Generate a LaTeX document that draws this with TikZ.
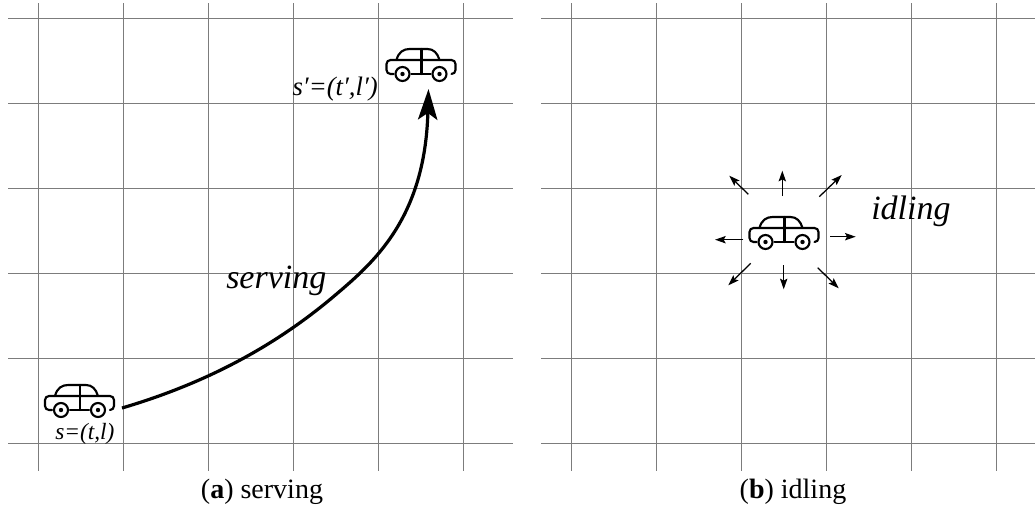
\documentclass[tikz,border=0pt]{standalone}
\usepackage{fontspec}
\setmainfont{Liberation Serif}
\usetikzlibrary{arrows.meta}
\definecolor{gridline}{HTML}{7C7C7C}
\begin{document}
\begin{tikzpicture}[
  x=.75pt,y=-.75pt,
  gridrule/.style={draw=gridline,line width=.65pt},
  carline/.style={draw=black,line width=1.6pt,line cap=round},
  route/.style={-{Stealth[length=23pt,width=14.5pt,inset=5pt]},line width=2.4pt},
  idlearr/.style={-{Stealth[length=8pt,width=5.5pt,inset=1.5pt]},line width=.95pt},
  tag/.style={font=\itshape\fontsize{17.5}{17.5}\selectfont,inner sep=0pt},
  word/.style={font=\itshape\fontsize{25.5}{25.5}\selectfont,anchor=base west,inner sep=0pt},
  caption/.style={font=\fontsize{21}{21}\selectfont,anchor=base,inner sep=0pt},
  pics/car/.style={code={
    \draw[carline,rounded corners=3pt] (-28,14) -- (-35,14) -- (-35,0) -- (34,0) -- (34,14) -- (30,14);
    \draw[carline] (-25,0) .. controls (-23,-8) and (-18,-11) .. (-12,-11) -- (6,-11)
       .. controls (12,-11) and (16,-7) .. (18,0);
    \draw[carline] (0,-11) -- (0,14) (-10,14) -- (9,14);
    \foreach \wx in {-19,18}{
      \draw[carline] (\wx,14) circle (7);
      \fill (\wx,14) circle (2.2);
    }
  }}
]
\useasboundingbox (0,0) rectangle (1035,508);
% grids
\foreach \gx in {38,123,208,293,378,463,571,656,741,826,911,996}
  \draw[gridrule] (\gx,3) -- (\gx,471);
\foreach \gy in {18,103,188,273,358,443}{
  \draw[gridrule] (8,\gy) -- (513,\gy);
  \draw[gridrule] (541,\gy) -- (1035,\gy);
}
% serving
\pic (cara) at (80,396) {car};
\pic (carb) at (421.5,60) {car};
\coordinate (start) at (122,408);
\coordinate (bend) at (333,297);
\coordinate (goal) at (428.5,89);
\draw[route] (start) .. controls (200,385) and (270,350) .. (bend)
  .. controls (372,264) and (425,220) .. (goal);
\node[tag,anchor=base west] (sa) at (55,439) {s=(t,l)};
\node[tag,anchor=base east,font=\itshape\fontsize{20}{20}\selectfont] (sb) at (378,95) {s′=(t′,l′)};
\node[word] (serving) at (226,288) {serving};
\node[caption] (capa) at (262,498) {(\textbf{a}) serving};
% idling
\pic (carc) at (784.5,228) {car};
\foreach \nm/\ax/\ay/\bx/\by in {nw/748.3/194.3/729.3/175.7,n/782.3/196/782.3/170.7,
    ne/819.3/196.7/841.7/175,w/743.3/239.7/715/239.7,e/830/236.7/855.7/236.7,
    sw/750.7/263.3/728.3/285.3,s/783.7/265/783.7/289.3,se/817.7/267.7/838.7/288.3}{
  \coordinate (from\nm) at (\ax,\ay);
  \coordinate (to\nm) at (\bx,\by);
  \draw[idlearr] (from\nm) -- (to\nm);
}
\node[word] (idling) at (871,219) {idling};
\node[caption] (capb) at (793,498) {(\textbf{b}) idling};
\end{tikzpicture}
\end{document}
